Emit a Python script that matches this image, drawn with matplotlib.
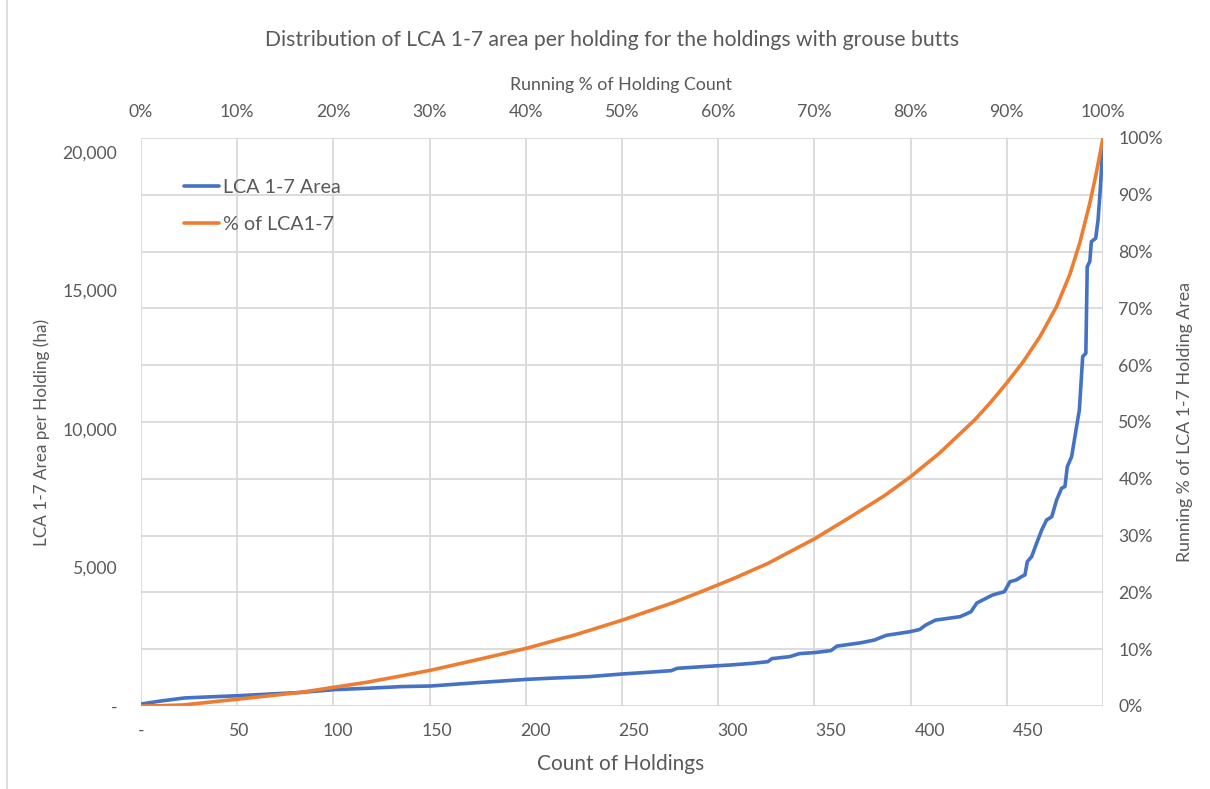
import matplotlib
matplotlib.use("Agg")
import matplotlib.pyplot as plt
from matplotlib.lines import Line2D

plt.rcParams['font.family'] = ['Lato', 'DejaVu Sans']

# ---- data ----
n_holdings = 488
area_count = [0, 10, 22, 35, 49, 65, 81, 98, 115, 132, 147, 170, 196, 210, 227, 244,
              258, 269, 272, 285, 299, 310, 318, 320, 329, 334, 342, 350, 353, 365,
              372, 378, 390, 395, 398, 403, 415.5, 421, 424, 432, 438, 440.8, 444, 446.7,
              448.4, 449.6, 451.8, 454.3, 456.9, 459.4, 462, 464.5, 467, 468.7, 469.9,
              472.1, 474.3, 476, 477.7, 479.3, 480, 481.3, 482.1, 484.3, 485.5, 486.6, 488]
area_ha = [70, 180, 290, 330, 370, 430, 490, 590, 640, 700, 722, 840, 963, 1010, 1058, 1155,
           1220, 1275, 1360, 1420, 1480, 1540, 1600, 1710, 1780, 1890, 1930, 2000, 2160, 2280,
           2380, 2550, 2680, 2760, 2920, 3100, 3224, 3400, 3718, 4007, 4127, 4487, 4550, 4670,
           4730, 5210, 5390, 5870, 6350, 6715, 6830, 7440, 7860, 7920, 8640,
           9000, 9960, 10680, 12610, 12730, 15860, 16040, 16760, 16880, 17545, 18630, 20300]
pct_count = [0, 10, 22, 49, 65, 81, 98, 115, 132, 147, 170, 196, 220, 244, 270, 284, 301,
             318, 342, 360, 377, 390.5, 405, 423, 430.6, 439, 447.5, 456, 464.4, 471.2,
             476.2, 481.3, 484.6, 488]
pct_area = [0.0, 0.05, 0.2, 1.2, 1.8, 2.4, 3.3, 4.2, 5.3, 6.3, 8.1, 10.2, 12.5, 15.1, 18.2,
            20.1, 22.5, 25.1, 29.5, 33.3, 37.0, 40.4, 44.5, 50.4, 53.3, 56.8, 60.6, 65.0,
            70.3, 76.0, 81.5, 88.5, 93.8, 100.0]

left_ticks = [0, 5000, 10000, 15000, 20000]
left_labels = ['-', '5,000', '10,000', '15,000', '20,000']
bottom_ticks = [0, 50, 100, 150, 200, 250, 300, 350, 400, 450]
bottom_labels = ['-'] + [str(v) for v in bottom_ticks[1:]]
pct_ticks = [0, 10, 20, 30, 40, 50, 60, 70, 80, 90, 100]
pct_labels = [f'{v}%' for v in pct_ticks]

left_max = 20500

BLUE = '#4472C4'
ORANGE = '#ED7D31'
GRID = '#D9D9D9'
TXT = '#595959'

W, H = 1210, 789
fig = plt.figure(figsize=(W / 100, H / 100), dpi=100)
ax = fig.add_axes([141 / W, 1 - 706 / H, (1103 - 141) / W, (706 - 138) / H])
ax_r = ax.twinx()

ax.set_xlim(0, n_holdings)
ax.set_ylim(0, left_max)
ax_r.set_ylim(0, 100)

for s in list(ax.spines.values()) + list(ax_r.spines.values()):
    s.set_visible(False)

# gridlines (top axis 10% steps, right axis 10% steps)
for p in pct_ticks:
    ax.axvline(p / 100 * n_holdings, color=GRID, lw=1.3, zorder=0)
    ax.axhline(p / 100 * left_max, color=GRID, lw=1.3, zorder=0)

l1, = ax.plot(area_count, area_ha, color=BLUE, lw=2.6, solid_capstyle='round',
              solid_joinstyle='round', label='LCA 1-7 Area', zorder=3)
l2, = ax_r.plot(pct_count, pct_area, color=ORANGE, lw=2.6, solid_capstyle='round',
                solid_joinstyle='round', label='% of LCA1-7', zorder=3)

fs = 12.7
ax.set_yticks(left_ticks)
ax.set_yticklabels(left_labels)
ax.set_xticks(bottom_ticks)
ax.set_xticklabels(bottom_labels)
ax.tick_params(axis='y', length=0, pad=17, labelsize=fs, labelcolor=TXT)
ax.tick_params(axis='x', length=0, pad=12, labelsize=fs, labelcolor=TXT)
ax_r.set_yticks(pct_ticks)
ax_r.set_yticklabels(pct_labels)
ax_r.tick_params(axis='y', length=0, pad=11, labelsize=fs, labelcolor=TXT)

top = ax.secondary_xaxis('top', functions=(lambda x: x / n_holdings * 100,
                                           lambda p: p / 100 * n_holdings))
top.set_xticks(pct_ticks)
top.set_xticklabels(pct_labels)
top.tick_params(axis='x', length=0, pad=13, labelsize=fs, labelcolor=TXT)
for s in top.spines.values():
    s.set_visible(False)

fig.text(612 / W, 1 - 40 / H, 'Distribution of LCA 1-7 area per holding for the holdings with grouse butts',
         ha='center', va='center', fontsize=15.2, color=TXT)
fig.text(621 / W, 1 - 85 / H, 'Running % of Holding Count', ha='center', va='center',
         fontsize=12.8, color=TXT)
fig.text(621 / W, 1 - 764 / H, 'Count of Holdings', ha='center', va='center',
         fontsize=15, color=TXT)
fig.text(42 / W, 1 - 432 / H, 'LCA 1-7 Area per Holding (ha)', ha='center', va='center',
         rotation=90, fontsize=12.3, color=TXT)
fig.text(1185 / W, 1 - 422 / H, 'Running % of LCA 1-7 Holding Area', ha='center', va='center',
         rotation=90, fontsize=12.8, color=TXT)

leg = ax_r.legend(handles=[l1, l2], loc='upper left', bbox_to_anchor=(184 / W, 1 - 179 / H),
                  bbox_transform=fig.transFigure, frameon=False, fontsize=14.2,
                  handlelength=1.75, handletextpad=0.25, labelspacing=1.0,
                  borderpad=0, borderaxespad=0, labelcolor=TXT)

fig.add_artist(Line2D([7 / W, 7 / W], [0, 1], transform=fig.transFigure, color=GRID, lw=1.2))

fig.savefig('out.png', dpi=100)
